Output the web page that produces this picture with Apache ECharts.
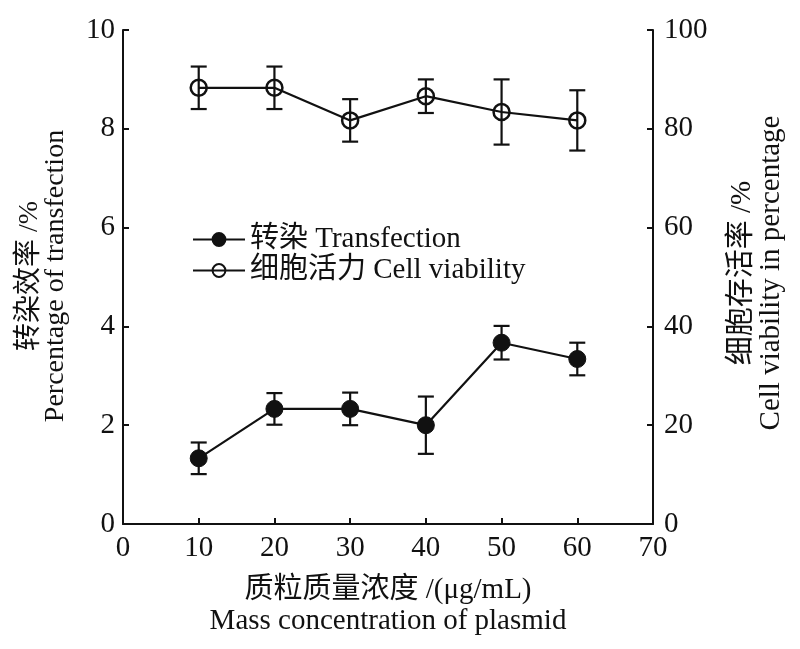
<!DOCTYPE html>
<html><head><meta charset="utf-8">
<script src="https://cdn.jsdelivr.net/npm/echarts@6/dist/echarts.min.js"></script>
<style>html,body{margin:0;padding:0;background:#fff}#c{width:800px;height:649px}</style>
</head><body><div id="c"></div>
<script>
const concentrations = [10, 20, 30, 40, 50, 60];
const transfection = [1.33, 2.33, 2.33, 2.0, 3.67, 3.34];
const transfectionErr = [0.32, 0.32, 0.33, 0.58, 0.34, 0.33];
const viability = [88.3, 88.3, 81.7, 86.6, 83.4, 81.7];
const viabilityErr = [4.3, 4.3, 4.3, 3.4, 6.6, 6.1];
const xTicks = [0, 10, 20, 30, 40, 50, 60, 70];

const FONT = '"Liberation Serif", "Times New Roman", "Noto Sans CJK SC", serif';
const chart = echarts.init(document.getElementById('c'));

function errSeries(vals, errs, yIdx) {
  return {
    type: 'custom', yAxisIndex: yIdx, z: 1, silent: true,
    data: concentrations.map((x, i) => [x, vals[i] - errs[i], vals[i] + errs[i]]),
    renderItem: function (params, api) {
      const lo = api.coord([api.value(0), api.value(1)]);
      const hi = api.coord([api.value(0), api.value(2)]);
      const w = 8;
      const st = { stroke: '#111', lineWidth: 2.2 };
      return { type: 'group', children: [
        { type: 'line', shape: { x1: lo[0], y1: lo[1], x2: hi[0], y2: hi[1] }, style: st },
        { type: 'line', shape: { x1: lo[0] - w, y1: lo[1], x2: lo[0] + w, y2: lo[1] }, style: st },
        { type: 'line', shape: { x1: hi[0] - w, y1: hi[1], x2: hi[0] + w, y2: hi[1] }, style: st }
      ]};
    }
  };
}

const axisCommon = {
  axisLine: { show: true, lineStyle: { color: '#111', width: 2 } },
  axisTick: { show: true, inside: true, length: 6, lineStyle: { color: '#111', width: 2 } },
  splitLine: { show: false },
  axisLabel: { color: '#111', fontFamily: FONT, fontSize: 29 }
};

chart.setOption({
  animation: false,
  backgroundColor: '#fff',
  textStyle: { fontFamily: FONT },
  grid: { left: 123, right: 147, top: 30, bottom: 125 },
  legend: {
    orient: 'vertical', left: 187, top: 220, itemWidth: 52, itemHeight: 16, itemGap: 2,
    textStyle: { fontFamily: FONT, fontSize: 29, color: '#111', lineHeight: 28 },
    data: ['转染 Transfection', '细胞活力 Cell viability']
  },
  xAxis: Object.assign({}, axisCommon, {
    type: 'value', min: 0, max: 70, interval: 10,
    axisLabel: Object.assign({}, axisCommon.axisLabel, { margin: 10, formatter: v => xTicks.includes(v) ? String(v) : '' }),
    name: '质粒质量浓度 /(μg/mL)\nMass concentration of plasmid',
    nameLocation: 'middle', nameGap: 51,
    nameTextStyle: { fontFamily: FONT, fontSize: 29, color: '#111', lineHeight: 31 }
  }),
  yAxis: [
    Object.assign({}, axisCommon, {
      type: 'value', min: 0, max: 10, interval: 2, position: 'left',
      axisLabel: Object.assign({}, axisCommon.axisLabel, { margin: 8 })
    }),
    Object.assign({}, axisCommon, {
      type: 'value', min: 0, max: 100, interval: 20, position: 'right',
      axisLabel: Object.assign({}, axisCommon.axisLabel, { margin: 11 })
    })
  ],
  graphic: [
    { type: 'text', x: 43, y: 276, rotation: Math.PI / 2,
      style: { text: '转染效率 /%\nPercentage of transfection', align: 'center', verticalAlign: 'middle',
        font: '28px ' + FONT, fill: '#111', lineHeight: 26 } },
    { type: 'text', x: 757, y: 273, rotation: Math.PI / 2,
      style: { text: '细胞存活率 /%\nCell viability in percentage', align: 'center', verticalAlign: 'middle',
        font: '29px ' + FONT, fill: '#111', lineHeight: 29 } }
  ],
  series: [
    errSeries(transfection, transfectionErr, 0),
    errSeries(viability, viabilityErr, 1),
    {
      name: '转染 Transfection', type: 'line', yAxisIndex: 0, z: 3,
      data: concentrations.map((x, i) => [x, transfection[i]]),
      symbol: 'circle', symbolSize: 17,
      lineStyle: { color: '#111', width: 2.2 },
      itemStyle: { color: '#111', borderColor: '#111', borderWidth: 1 }
    },
    {
      name: '细胞活力 Cell viability', type: 'line', yAxisIndex: 1, z: 3,
      data: concentrations.map((x, i) => [x, viability[i]]),
      symbol: 'circle', symbolSize: 16,
      lineStyle: { color: '#111', width: 2.2 },
      itemStyle: { color: 'rgba(255,255,255,0)', borderColor: '#111', borderWidth: 2.5 }
    }
  ]
});
</script></body></html>
